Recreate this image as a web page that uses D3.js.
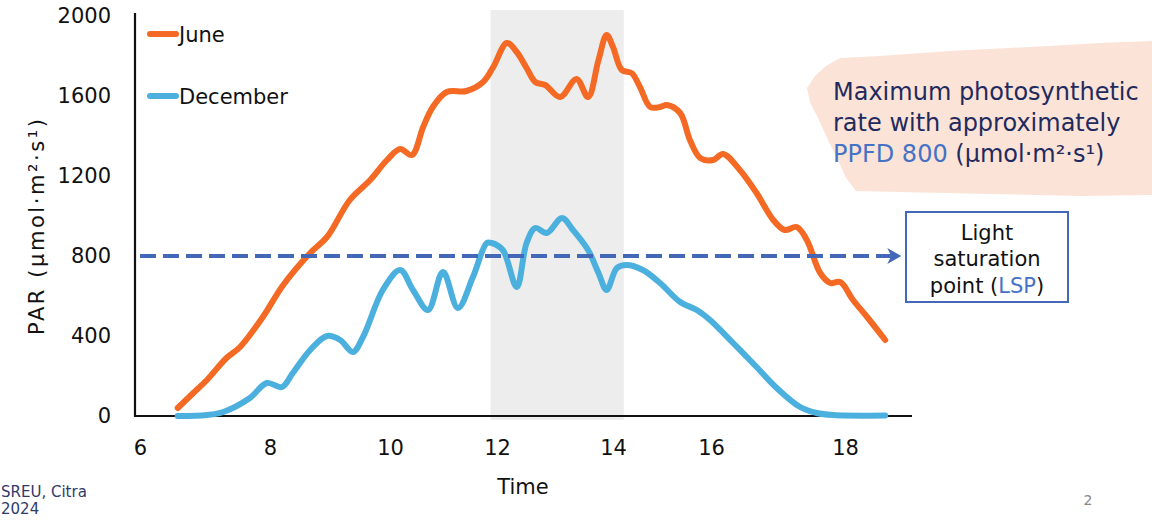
<!DOCTYPE html>
<html>
<head>
<meta charset="utf-8">
<script src="https://cdn.jsdelivr.net/npm/d3@7"></script>
<style>
  html, body { margin: 0; padding: 0; background: #fff; overflow: hidden; }
  svg { display: block; font-family: "DejaVu Sans", Verdana, sans-serif; }
</style>
</head>
<body>
<svg id="chart" width="1152" height="520"></svg>
<script>
// ---- data ----
// Time of day (h) and PAR (µmol·m⁻²·s⁻¹) for the two months
const juneHours = [6.58, 6.82, 7.03, 7.33, 7.54, 7.89, 8.22, 8.67, 8.95, 9.33, 9.67, 9.95, 10.19, 10.41, 10.62, 10.80, 11.06, 11.43, 11.74, 11.93, 12.17, 12.34, 12.51, 12.66, 12.83, 13.09, 13.37, 13.57, 13.75, 13.89, 14.0, 14.18, 14.38, 14.55, 14.76, 14.96, 15.10, 15.37, 15.57, 15.78, 16.03, 16.18, 16.43, 16.68, 16.93, 17.10, 17.28, 17.43, 17.63, 17.78, 17.93, 18.12, 18.33, 18.60];
const junePAR   = [40, 115, 180, 290, 345, 495, 655, 815, 895, 1080, 1180, 1280, 1335, 1305, 1445, 1545, 1620, 1625, 1670, 1745, 1865, 1820, 1740, 1670, 1655, 1595, 1685, 1595, 1780, 1905, 1845, 1730, 1715, 1645, 1545, 1545, 1555, 1515, 1380, 1290, 1280, 1310, 1230, 1115, 980, 930, 945, 880, 715, 665, 670, 580, 495, 380];

const decHours = [6.58, 7.03, 7.28, 7.69, 7.95, 8.20, 8.38, 8.67, 8.95, 9.17, 9.38, 9.55, 9.88, 10.19, 10.43, 10.71, 10.99, 11.27, 11.55, 11.81, 11.90, 12.10, 12.34, 12.51, 12.66, 12.86, 13.12, 13.31, 13.57, 13.75, 13.89, 14.08, 14.28, 14.61, 14.96, 15.37, 15.71, 15.98, 16.33, 16.68, 16.98, 17.33, 17.58, 17.82, 18.60];
const decPAR   = [0, 5, 20, 90, 165, 145, 215, 330, 400, 380, 320, 395, 630, 730, 630, 530, 720, 540, 695, 865, 865, 830, 645, 865, 940, 915, 990, 930, 830, 715, 630, 740, 755, 730, 665, 570, 530, 480, 365, 245, 140, 45, 15, 5, 2];

const seriesNames  = ["June", "December"];
const seriesColors = ["#F46923", "#4CB0DE"];

const xTicks = [6, 8, 10, 12, 14, 16, 18];
const yTicks = [0, 400, 800, 1200, 1600, 2000];

const lspValue   = 800;            // light saturation point
const peakWindow = [11.88, 14.22]; // shaded midday window (h)

// ---- layout ----
const plotLeft = 135, plotRight = 912, plotBottom = 416, plotTop = 13;
// tick label positions along the time axis (uneven spacing)
const xTickPx = [140, 270, 390, 497, 613, 711, 845];

const svg = d3.select("#chart");

const x = d3.scaleLinear().domain(xTicks).range(xTickPx);
const y = d3.scaleLinear().domain([0, 2000]).range([plotBottom, 16]);

// shaded band
svg.append("rect")
  .attr("x", x(peakWindow[0]))
  .attr("y", y(2030))
  .attr("width", x(peakWindow[1]) - x(peakWindow[0]))
  .attr("height", y(-20) - y(2030))
  .attr("fill", "#EDEDED");

// axes
const xAxis = svg.append("g")
  .attr("transform", `translate(0,${plotBottom})`)
  .call(d3.axisBottom(x).tickValues(xTicks).tickSize(0).tickPadding(24));
xAxis.select(".domain").remove();
xAxis.selectAll("text")
  .attr("font-size", 21).attr("font-family", "DejaVu Sans").attr("fill", "#111");

const yAxis = svg.append("g")
  .attr("transform", `translate(111,0)`)
  .call(d3.axisLeft(y).tickValues(yTicks).tickFormat(d3.format("d")).tickSize(0).tickPadding(0));
yAxis.select(".domain").remove();
yAxis.selectAll("text")
  .attr("font-size", 21).attr("font-family", "DejaVu Sans").attr("fill", "#111");

svg.append("line")
  .attr("x1", plotLeft).attr("x2", plotLeft)
  .attr("y1", plotTop).attr("y2", plotBottom + 1)
  .attr("stroke", "#111").attr("stroke-width", 2.2);
svg.append("line")
  .attr("x1", plotLeft - 1).attr("x2", plotRight)
  .attr("y1", plotBottom).attr("y2", plotBottom)
  .attr("stroke", "#111").attr("stroke-width", 2.2);

// axis titles
svg.append("text")
  .attr("x", 523).attr("y", 494)
  .attr("text-anchor", "middle")
  .attr("font-size", 21).attr("fill", "#111")
  .text("Time");

svg.append("text")
  .attr("transform", "translate(44,227) rotate(-90)")
  .attr("text-anchor", "middle")
  .attr("font-size", 21).attr("fill", "#111")
  .attr("textLength", 216).attr("lengthAdjust", "spacing")
  .text("PAR (μmol·m²·s¹)");

// series lines
const line = d3.line()
  .x(d => x(d[0])).y(d => y(d[1]))
  .curve(d3.curveCatmullRom.alpha(0.5));

const series = [
  d3.zip(juneHours, junePAR),
  d3.zip(decHours, decPAR)
];

svg.selectAll("path.series")
  .data(series)
  .join("path")
  .attr("class", "series")
  .attr("d", line)
  .attr("fill", "none")
  .attr("stroke", (d, i) => seriesColors[i])
  .attr("stroke-width", 6)
  .attr("stroke-linecap", "round")
  .attr("stroke-linejoin", "round");

// light saturation point: dashed arrow
const lspStart = 6, lspEnd = 18.84;
const arrowY = y(lspValue);
svg.append("line")
  .attr("x1", x(lspStart)).attr("x2", x(lspEnd) - 10)
  .attr("y1", arrowY).attr("y2", arrowY)
  .attr("stroke", "#4468B8").attr("stroke-width", 4)
  .attr("stroke-dasharray", "16 7");
const tip = x(lspEnd);
svg.append("path")
  .attr("d", `M${tip},${arrowY} L${tip - 14},${arrowY - 8} L${tip - 10},${arrowY} L${tip - 14},${arrowY + 8} Z`)
  .attr("fill", "#4468B8");

// legend
const legend = svg.append("g");
seriesNames.forEach((name, i) => {
  const ly = 34 + i * 62;
  legend.append("line")
    .attr("x1", 150).attr("x2", 176)
    .attr("y1", ly).attr("y2", ly)
    .attr("stroke", seriesColors[i]).attr("stroke-width", 6)
    .attr("stroke-linecap", "round");
  legend.append("text")
    .attr("x", 179).attr("y", ly).attr("dy", "0.36em")
    .attr("font-size", 21).attr("fill", "#111")
    .text(name);
});

// callout blob
const blob = [[807,88],[815,76],[826,66],[840,58],[880,56],[950,51],[1030,47],[1100,43],[1152,41],[1152,195],[1080,196],[990,194],[900,192],[856,191],[846,178],[838,160],[828,140],[818,118],[810,102]];
svg.append("path")
  .attr("d", d3.line().curve(d3.curveLinearClosed)(blob))
  .attr("fill", "#FBE3D7");

const navy = "#1F2A5E", accent = "#4472C4";
const callout = svg.append("text")
  .attr("font-size", 24).attr("fill", navy);
callout.append("tspan").attr("x", 833).attr("y", 100).text("Maximum photosynthetic");
callout.append("tspan").attr("x", 833).attr("y", 131).text("rate with approximately");
const l3 = callout.append("tspan").attr("x", 833).attr("y", 162);
l3.append("tspan").attr("fill", accent).text("PPFD 800");
l3.append("tspan").text(" (μmol·m²·s¹)");

// LSP box
svg.append("rect")
  .attr("x", 906).attr("y", 212).attr("width", 162).attr("height", 90)
  .attr("fill", "#fff").attr("stroke", "#4468B8").attr("stroke-width", 2);
const box = svg.append("text")
  .attr("text-anchor", "middle").attr("font-size", 21).attr("fill", "#111");
box.append("tspan").attr("x", 987).attr("y", 240).text("Light");
box.append("tspan").attr("x", 987).attr("y", 266).text("saturation");
const l4 = box.append("tspan").attr("x", 987).attr("y", 293);
l4.append("tspan").text("point (");
l4.append("tspan").attr("fill", accent).text("LSP");
l4.append("tspan").text(")");

// footer
svg.append("text").attr("x", 1).attr("y", 497)
  .attr("font-size", 15).attr("fill", "#2F3A6B").text("SREU, Citra");
svg.append("text").attr("x", 1).attr("y", 514)
  .attr("font-size", 15).attr("fill", "#2F3A6B").text("2024");
svg.append("text").attr("x", 1088).attr("y", 505)
  .attr("text-anchor", "middle")
  .attr("font-size", 14).attr("fill", "#888").text("2");
</script>
</body>
</html>
